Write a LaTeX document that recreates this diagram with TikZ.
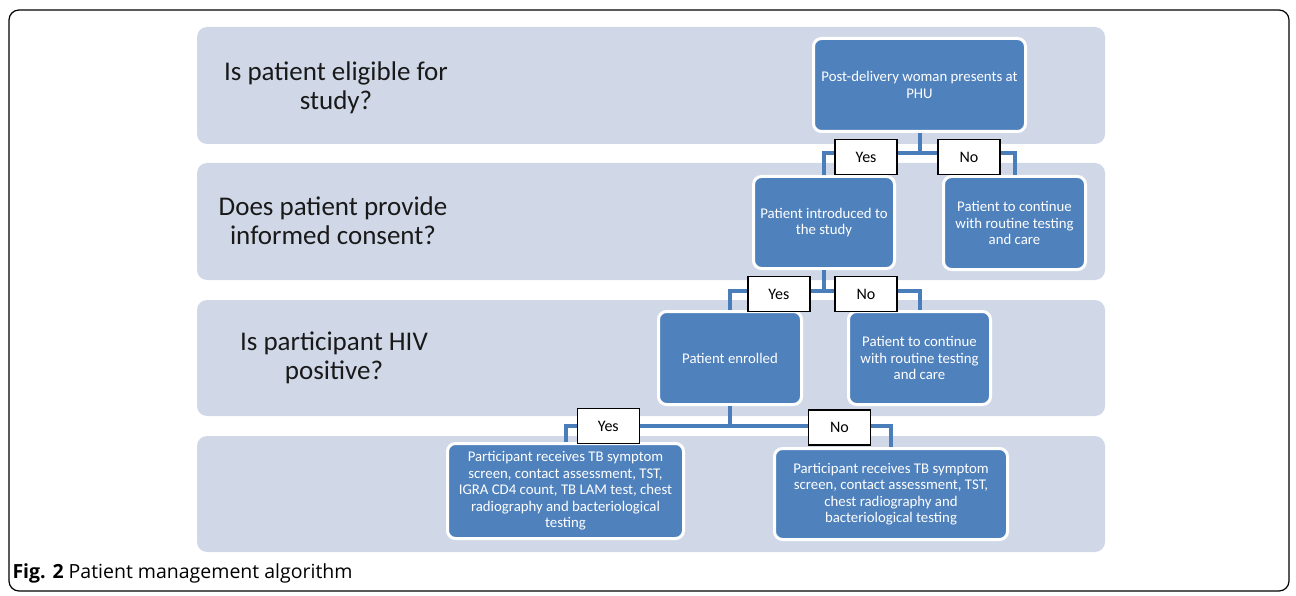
\documentclass[tikz,border=0pt]{standalone}
\usepackage{fontspec}
\setmainfont{Carlito}
\newfontfamily\capfont{Open Sans}
\usetikzlibrary{positioning}
\definecolor{bandgray}{HTML}{D0D8E8}
\definecolor{boxblue}{HTML}{4F81BD}
\definecolor{linkblue}{HTML}{4A7EBB}

\begin{document}
\begin{tikzpicture}[x=1pt,y=-1pt,
  band/.style={fill=bandgray,rounded corners=10pt},
  question/.style={align=center,text=black!90,font=\fontsize{27}{29}\selectfont},
  main node/.style={draw=white,line width=3pt,fill=boxblue,rounded corners=8pt,text=white,align=center,font=\fontsize{14.8}{16.5}\selectfont,inner sep=2pt},
  answer/.style={draw=black,line width=1.5pt,fill=white,minimum width=62pt,minimum height=35pt,inner sep=0pt,font=\fontsize{16}{18}\selectfont},
  link/.style={draw=linkblue,line width=4pt}]

	\useasboundingbox (0,0) rectangle (1296,596);
	\draw[line width=1.2pt,rounded corners=10pt] (9,10) rectangle (1289,591);

	% background bands
	\fill[band] (197,27) rectangle (1105,144);
	\fill[band] (197,163) rectangle (1105,280);
	\fill[band] (197,300) rectangle (1105,416);
	\fill[band] (197,436) rectangle (1105,552);

	\node[question] (q1) at (336,88) {Is patient eligible for\\study?};
	\node[question] (q2) at (333,221) {Does patient provide\\informed consent?};
	\node[question] (q3) at (334,358) {Is participant HIV\\positive?};

	% steps
	\node[main node,minimum width=212pt,minimum height=93pt] (A) at (919.5,85) {Post-delivery woman presents at\\PHU};
	\node[main node,minimum width=141pt,minimum height=92pt] (B) at (824,222.5) {Patient introduced to\\the study};
	\node[main node,minimum width=142pt,minimum height=93pt] (C) at (1014.5,223) {Patient to continue\\with routine testing\\and care};
	\node[main node,minimum width=143pt,minimum height=93pt] (D) at (730,358) {Patient enrolled};
	\node[main node,minimum width=142pt,minimum height=93pt] (E) at (919.5,358) {Patient to continue\\with routine testing\\and care};
	\node[main node,minimum width=236pt,minimum height=95pt] (F) at (565.5,491) {Participant receives TB symptom\\screen, contact assessment, TST,\\IGRA CD4 count, TB LAM test, chest\\radiography and bacteriological\\testing};
	\node[main node,minimum width=233pt,minimum height=91pt] (G) at (891,494) {Participant receives TB symptom\\screen, contact assessment, TST,\\chest radiography and\\bacteriological testing};

	% decisions
	\draw[link] (A.south) -- ++(0,20) -| node[answer,pos=0.28,yshift=-4pt] {Yes} (B.north);
	\draw[link] (A.south) -- ++(0,20) -| node[answer,pos=0.26,yshift=-4pt] {No} (C.north);
	\draw[link] (B.south) -- ++(0,21) -| node[answer,pos=0.24,yshift=-3pt] {Yes} (D.north);
	\draw[link] (B.south) -- ++(0,21) -| node[answer,pos=0.22,yshift=-3pt] {No} (E.north);
	\draw[link] (D.south) -- ++(0,20) -| node[answer,pos=0.37] {Yes} (F.north);
	\draw[link] (D.south) -- ++(0,20) -| node[answer,pos=0.34,yshift=-1.5pt] {No} (G.north);

	\node[anchor=west,font=\capfont\fontsize{19.5}{22}\selectfont] (cap) at (9,573) {\textbf{Fig. 2} Patient management algorithm};

\end{tikzpicture}
\end{document}
